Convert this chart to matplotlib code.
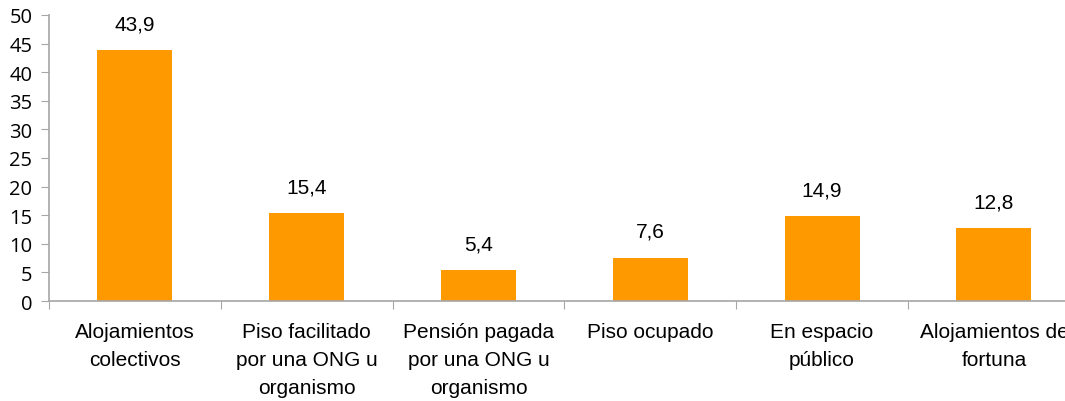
import matplotlib
matplotlib.use("Agg")
import matplotlib.pyplot as plt

categories = [
    "Alojamientos\ncolectivos",
    "Piso facilitado\npor una ONG u\norganismo",
    "Pensión pagada\npor una ONG u\norganismo",
    "Piso ocupado",
    "En espacio\npúblico",
    "Alojamientos de\nfortuna",
]
values = [43.9, 15.4, 5.4, 7.6, 14.9, 12.8]
yticks = list(range(0, 51, 5))

bar_color = "#FF9900"
axis_color = "#A6A6A6"

fig = plt.figure(figsize=(10.65, 4.02), dpi=100)
# axes run past the right edge of the figure, as in the original (last label is clipped)
ax = fig.add_axes([49 / 1065, 1 - 302 / 402, 6 * 171.8 / 1065, 286 / 402])

x = range(len(categories))
bars = ax.bar(x, values, width=0.437, color=bar_color)

for rect, v in zip(bars, values):
    ax.annotate(f"{v:.1f}".replace(".", ","),
                (rect.get_x() + rect.get_width() / 2, rect.get_height()),
                xytext=(0, 12), textcoords="offset points",
                ha="center", va="bottom", fontsize=15,
                family="Liberation Sans")

ax.set_xlim(-0.5, len(categories) - 0.5)
ax.set_ylim(0, 50)
ax.set_yticks(yticks)
ax.set_yticklabels([str(t) for t in yticks], family="Open Sans", fontsize=14.5)

# category ticks sit on the boundaries between bars
ax.set_xticks([i - 0.5 for i in range(len(categories) + 1)])
ax.set_xticklabels([])
ax.set_xticks(list(x), minor=True)
ax.set_xticklabels(categories, minor=True, family="Liberation Sans",
                   fontsize=15, linespacing=1.6)
ax.tick_params(axis="x", which="minor", length=0, pad=15)
ax.tick_params(axis="x", which="major", length=6, color=axis_color)
ax.tick_params(axis="y", length=6, color=axis_color, pad=6)

for side in ("top", "right"):
    ax.spines[side].set_visible(False)
for side in ("left", "bottom"):
    ax.spines[side].set_color(axis_color)
    ax.spines[side].set_linewidth(1.2)

fig.savefig("out.png", dpi=100)
